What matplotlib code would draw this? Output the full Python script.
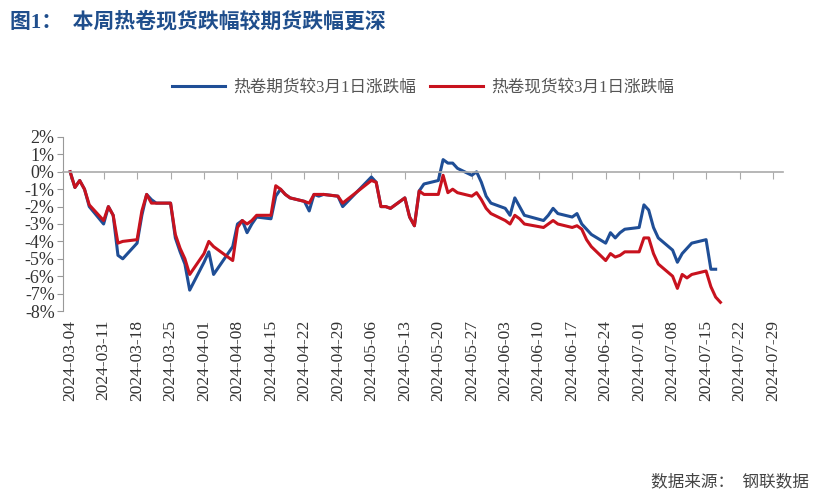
import numpy as np
import pandas as pd
import matplotlib
matplotlib.use("Agg")
import matplotlib.pyplot as plt
import matplotlib.dates as mdates
import matplotlib.transforms as mtransforms

FONT = ["Liberation Serif", "Noto Sans CJK SC"]
plt.rcParams["font.family"] = FONT

blue_dates = [
    "2024-03-04", "2024-03-05", "2024-03-06", "2024-03-07", "2024-03-08",
    "2024-03-11", "2024-03-12", "2024-03-13", "2024-03-14", "2024-03-15",
    "2024-03-18", "2024-03-19", "2024-03-20", "2024-03-21", "2024-03-22",
    "2024-03-25", "2024-03-26", "2024-03-27", "2024-03-28", "2024-03-29",
    "2024-04-01", "2024-04-02", "2024-04-03", "2024-04-07",
    "2024-04-08", "2024-04-09", "2024-04-10", "2024-04-11", "2024-04-12",
    "2024-04-15", "2024-04-16", "2024-04-17", "2024-04-18", "2024-04-19",
    "2024-04-22", "2024-04-23", "2024-04-24", "2024-04-25", "2024-04-26",
    "2024-04-29", "2024-04-30", "2024-05-06", "2024-05-07", "2024-05-08",
    "2024-05-09", "2024-05-10", "2024-05-13", "2024-05-14", "2024-05-15",
    "2024-05-16", "2024-05-17", "2024-05-20", "2024-05-21", "2024-05-22",
    "2024-05-23", "2024-05-24", "2024-05-27", "2024-05-28", "2024-05-29",
    "2024-05-30", "2024-05-31", "2024-06-03", "2024-06-04", "2024-06-05",
    "2024-06-06", "2024-06-07", "2024-06-11", "2024-06-12", "2024-06-13",
    "2024-06-14", "2024-06-17", "2024-06-18", "2024-06-19", "2024-06-20",
    "2024-06-21", "2024-06-24", "2024-06-25", "2024-06-26", "2024-06-27",
    "2024-06-28", "2024-07-01", "2024-07-02", "2024-07-03", "2024-07-04",
    "2024-07-05", "2024-07-08", "2024-07-09", "2024-07-10", "2024-07-11",
    "2024-07-12", "2024-07-15", "2024-07-16", "2024-07-17",
]
futures_chg = [
    0.0, -0.9, -0.5, -1.0, -2.0,
    -3.0, -2.0, -2.5, -4.8, -5.0,
    -4.1, -2.5, -1.3, -1.6, -1.8,
    -1.8, -3.8, -4.6, -5.3, -6.8,
    -5.2, -4.6, -5.9, -4.3,
    -3.0, -2.8, -3.5, -3.0, -2.6,
    -2.7, -1.4, -1.0, -1.3, -1.5,
    -1.7, -2.25, -1.3, -1.4, -1.3,
    -1.4, -2.0, -0.3, -0.6, -2.0,
    -2.0, -2.1, -1.5, -2.6, -3.1,
    -1.1, -0.7, -0.5, 0.7, 0.5,
    0.5, 0.2, -0.2, 0.0, -0.6,
    -1.4, -1.8, -2.1, -2.5, -1.5,
    -2.0, -2.5, -2.8, -2.5, -2.1,
    -2.4, -2.6, -2.4, -3.0, -3.3,
    -3.6, -4.1, -3.5, -3.8, -3.5,
    -3.3, -3.2, -1.9, -2.2, -3.2,
    -3.8, -4.5, -5.2, -4.7, -4.4,
    -4.1, -3.9, -5.6, -5.6,
]
spot_chg = [
    0.0, -0.9, -0.5, -1.0, -1.9,
    -2.8, -2.0, -2.5, -4.1, -4.0,
    -3.9, -2.25, -1.3, -1.8, -1.8,
    -1.8, -3.6, -4.4, -5.0, -5.9,
    -4.7, -4.0, -4.3, -5.1,
    -3.2, -2.8, -3.0, -2.8, -2.5,
    -2.5, -0.8, -1.0, -1.3, -1.5,
    -1.7, -1.8, -1.3, -1.3, -1.3,
    -1.4, -1.8, -0.5, -0.6, -2.0,
    -2.0, -2.1, -1.5, -2.6, -3.1,
    -1.1, -1.3, -1.3, -0.2, -1.2,
    -1.0, -1.2, -1.4, -1.2, -1.6,
    -2.1, -2.4, -2.8, -3.0, -2.5,
    -2.7, -3.0, -3.2, -3.0, -2.8,
    -3.0, -3.2, -3.1, -3.3, -3.9,
    -4.3, -5.1, -4.7, -4.9, -4.8,
    -4.6, -4.6, -3.8, -3.8, -4.7,
    -5.3, -6.0, -6.7, -5.9, -6.1,
    -5.9, -5.7, -6.6, -7.2,
]
spot_extra_date = ["2024-07-18"]
spot_extra = [-7.5]

tick_dates = pd.date_range("2024-03-04", "2024-07-29", freq="7D")
y_ticks = list(range(-8, 3))

BLUE = "#1F4E96"
RED = "#C8121E"

fig = plt.figure(figsize=(8.21, 5.0), dpi=100)
ax = fig.add_axes([0.0767, 0.378, 0.877, 0.348])

d_blue = pd.to_datetime(blue_dates)
d_red = pd.to_datetime(blue_dates + spot_extra_date)
ax.plot(d_blue, futures_chg, color=BLUE, lw=2.2, label="热卷期货较3月1日涨跌幅")
ax.plot(d_red, spot_chg + spot_extra, color=RED, lw=2.2, label="热卷现货较3月1日涨跌幅")

ax.set_xlim(pd.Timestamp("2024-03-02 12:00"), pd.Timestamp("2024-07-31 02:00"))
ax.set_ylim(-8, 2)
ax.set_yticks(y_ticks)
ax.set_yticklabels([f"{v}%" for v in y_ticks], fontsize=13, color="#333333")

for s in ["top", "right"]:
    ax.spines[s].set_visible(False)
ax.spines["left"].set_color("#999999")
ax.spines["bottom"].set_position(("data", 0))
ax.spines["bottom"].set_color("#aaaaaa")
ax.spines["bottom"].set_linewidth(1.2)
ax.set_xticks(tick_dates)
ax.tick_params(axis="x", direction="out", length=5, color="#aaaaaa", labelbottom=False)
ax.tick_params(axis="y", direction="out", length=4, color="#999999", pad=2)

trans = mtransforms.blended_transform_factory(ax.transData, ax.transAxes)
for d in tick_dates:
    ax.text(mdates.date2num(d), -0.05, d.strftime("%Y-%m-%d"), transform=trans,
            rotation=90, ha="center", va="top", fontsize=12.5, color="#333333")

fig.text(0.012, 0.955, "图1：  本周热卷现货跌幅较期货跌幅更深", fontsize=15,
         fontweight="bold", color="#1F4E8C", va="center", family=FONT)
ax.legend(loc="lower center", bbox_to_anchor=(0.5, 1.15), ncol=2, frameon=False,
          fontsize=12, handlelength=3.2, columnspacing=0.8, handletextpad=0.5,
          labelcolor="#555555")
fig.text(0.985, 0.035, "数据来源：  钢联数据", fontsize=12, color="#444444",
         ha="right", va="center", family=FONT)

fig.savefig("out.png", dpi=100)
